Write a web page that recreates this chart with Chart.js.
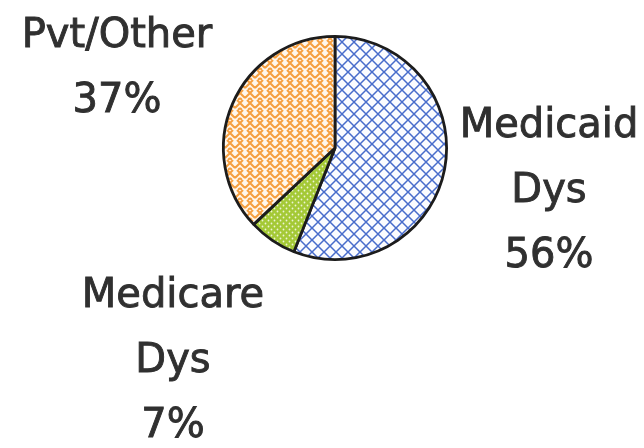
<!DOCTYPE html>
<html>
<head>
<meta charset="utf-8">
<script src="https://cdn.jsdelivr.net/npm/chart.js@4.4.1/dist/chart.umd.min.js"></script>
<style>
  html, body { margin: 0; padding: 0; background: #fff; }
  #wrap { width: 644px; height: 448px; }
</style>
</head>
<body>
<div id="wrap"><canvas id="payerChart" width="644" height="448"></canvas></div>
<script>
// payer mix for dialysis patients
const payerNames = ['Medicaid Dys', 'Medicare Dys', 'Pvt/Other'];
const payerShares = [56, 7, 37];

// label anchors (centre x, first baseline y) for each slice's caption
const captionSpots = [
    { x: 549, y: 137 },
    { x: 173, y: 307 },
    { x: 117, y: 47 }
];

function makeTile(size, draw) {
    const c = document.createElement('canvas');
    c.width = size; c.height = size;
    const g = c.getContext('2d');
    draw(g, size);
    return g.createPattern(c, 'repeat');
}

function patterns() {
    // blue cross-hatch
    const hatch = makeTile(12, (g, s) => {
        g.fillStyle = '#fbfcff';
        g.fillRect(0, 0, s, s);
        g.strokeStyle = 'rgba(62, 100, 200, 0.95)';
        g.lineWidth = 1.5;
        g.beginPath();
        g.moveTo(-1, -1); g.lineTo(s + 1, s + 1);
        g.moveTo(s + 1, -1); g.lineTo(-1, s + 1);
        g.stroke();
    });
    // green with white dots
    const dots = makeTile(6, (g, s) => {
        g.fillStyle = '#a4c936';
        g.fillRect(0, 0, s, s);
        g.fillStyle = 'rgba(255,255,255,0.8)';
        g.beginPath();
        g.arc(1.5, 1.5, 0.9, 0, Math.PI * 2);
        g.arc(4.5, 4.5, 0.9, 0, Math.PI * 2);
        g.fill();
    });
    // orange weave
    const weave = makeTile(10, (g, s) => {
        g.fillStyle = '#fff8ee';
        g.fillRect(0, 0, s, s);
        g.strokeStyle = 'rgba(245, 150, 45, 0.9)';
        g.lineWidth = 2;
        g.beginPath();
        g.moveTo(0, 3); g.lineTo(3, 0);
        g.moveTo(0, 3); g.lineTo(5, 8);
        g.moveTo(5, 8); g.lineTo(10, 3);
        g.moveTo(7, 0); g.lineTo(10, 3);
        g.moveTo(0, 8); g.lineTo(2, 10);
        g.moveTo(8, 10); g.lineTo(10, 8);
        g.stroke();
    });
    return [hatch, dots, weave];
}

const captionPlugin = {
    id: 'captions',
    afterDraw(chart) {
        const ctx = chart.ctx;
        const data = chart.data.datasets[0].data;
        ctx.save();
        ctx.fillStyle = '#303030';
        ctx.strokeStyle = '#303030';
        ctx.lineWidth = 0.9;
        ctx.font = '40px "DejaVu Sans", sans-serif';
        ctx.textAlign = 'center';
        ctx.textBaseline = 'alphabetic';
        chart.data.labels.forEach((name, i) => {
            const lines = name.split(' ');
            lines.push(data[i] + '%');
            const spot = captionSpots[i];
            lines.forEach((t, j) => {
                ctx.fillText(t, spot.x, spot.y + j * 65);
                ctx.strokeText(t, spot.x, spot.y + j * 65);
            });
        });
        ctx.restore();
    }
};

const canvas = document.getElementById('payerChart');

new Chart(canvas, {
    type: 'pie',
    data: {
        labels: payerNames,
        datasets: [{
            data: payerShares,
            backgroundColor: patterns(),
            borderColor: '#1c1c1c',
            borderWidth: 2.8
        }]
    },
    options: {
        responsive: false,
        animation: false,
        layout: { padding: { left: 222, right: 196, top: 34, bottom: 186 } },
        plugins: {
            legend: { display: false },
            tooltip: { enabled: false }
        }
    },
    plugins: [captionPlugin]
});
</script>
</body>
</html>
